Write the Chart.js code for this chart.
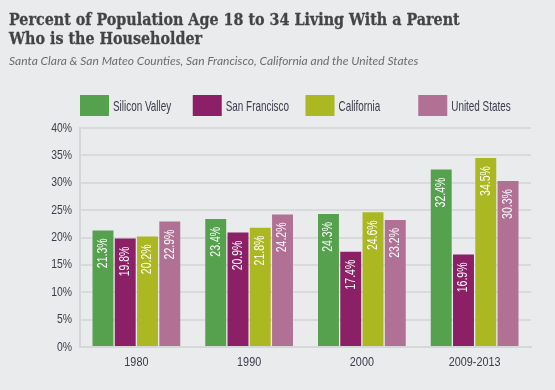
<!DOCTYPE html>
<html>
<head>
<meta charset="utf-8">
<script src="https://cdn.jsdelivr.net/npm/chart.js@4/dist/chart.umd.min.js"></script>
<style>
  html, body { margin: 0; padding: 0; background: #eaebed; }
  #wrap { position: relative; width: 555px; height: 390px; overflow: hidden; }
  #title { position: absolute; left: 9px; top: 10px; font-family: "DejaVu Serif", serif; font-weight: bold; font-size: 17.5px; line-height: 19px; color: #444444; -webkit-text-stroke: 0.3px #444444; white-space: nowrap; transform: scaleX(0.817); transform-origin: 0 0; }
  #sub { position: absolute; left: 9px; top: 53px; font-family: "Lato", "Open Sans", sans-serif; font-style: italic; font-size: 12px; color: #6d6d6d; white-space: nowrap; }
  canvas { position: absolute; left: 0; top: 0; }
</style>
</head>
<body>
<div id="wrap">
  <canvas id="c" width="555" height="390"></canvas>
  <div id="title">Percent of Population Age 18 to 34 Living With a Parent<br>Who is the Householder</div>
  <div id="sub">Santa Clara &amp; San Mateo Counties, San Francisco, California and the United States</div>
</div>
<script>
const categories = ["1980", "1990", "2000", "2009-2013"];
const seriesNames = ["Silicon Valley", "San Francisco", "California", "United States"];
const siliconValley = [21.3, 23.4, 24.3, 32.4];
const sanFrancisco = [19.8, 20.9, 17.4, 16.9];
const california = [20.2, 21.8, 24.6, 34.5];
const unitedStates = [22.9, 24.2, 23.2, 30.3];
const yTicks = [0, 5, 10, 15, 20, 25, 30, 35, 40];
const seriesColors = ["#55a14e", "#8c2067", "#abb821", "#b07195"];

const narrowFamily = '"Liberation Sans", Arial, sans-serif';
const textDark = '#3b3b4b';

// Draw text squeezed horizontally to imitate a condensed face
function narrowText(ctx, text, x, y, size, squeeze, align, baseline, color) {
  ctx.save();
  ctx.font = size + 'px ' + narrowFamily;
  ctx.fillStyle = color;
  ctx.textAlign = align;
  ctx.textBaseline = baseline;
  ctx.translate(x, y);
  ctx.scale(squeeze, 1);
  ctx.fillText(text, 0, 0);
  ctx.restore();
}

const valueLabels = {
  id: 'valueLabels',
  afterDatasetsDraw(chart) {
    const ctx = chart.ctx;
    chart.data.datasets.forEach((ds, di) => {
      chart.getDatasetMeta(di).data.forEach((bar, i) => {
        ctx.save();
        ctx.translate(bar.x, bar.y + 8);
        ctx.rotate(-Math.PI / 2);
        narrowText(ctx, ds.data[i].toFixed(1) + '%', 0, 0, 14, 0.75, 'right', 'middle', '#ffffff');
        ctx.restore();
      });
    });
  }
};

const axisLabels = {
  id: 'axisLabels',
  afterDraw(chart) {
    const ctx = chart.ctx;
    const ys = chart.scales.y, xs = chart.scales.x;
    ys.ticks.forEach((t, i) => {
      narrowText(ctx, t.value + '%', ys.right - 8, ys.getPixelForTick(i), 13, 0.8, 'right', 'middle', textDark);
    });
    xs.ticks.forEach((t, i) => {
      narrowText(ctx, categories[t.value], xs.getPixelForTick(i), xs.top + 15, 13.5, 0.8, 'center', 'middle', textDark);
    });
  }
};

const topLegend = {
  id: 'topLegend',
  afterDraw(chart) {
    const ctx = chart.ctx;
    const area = chart.chartArea;
    const step = (area.right - area.left) / categories.length;
    seriesNames.forEach((name, i) => {
      const x = area.left + i * step;
      ctx.fillStyle = seriesColors[i];
      ctx.fillRect(x, 95, 29, 21);
      narrowText(ctx, name, x + 33, 106.5, 15, 0.66, 'left', 'middle', textDark);
    });
  }
};

new Chart(document.getElementById('c'), {
  type: 'bar',
  data: {
    labels: categories,
    datasets: [siliconValley, sanFrancisco, california, unitedStates].map((d, i) => ({
      label: seriesNames[i],
      data: d,
      backgroundColor: seriesColors[i],
      borderWidth: 0,
      categoryPercentage: 0.79,
      barPercentage: 0.94
    }))
  },
  options: {
    responsive: false,
    animation: false,
    layout: { padding: { top: 128, right: 24, bottom: 0, left: 0 } },
    plugins: { legend: { display: false }, tooltip: { enabled: false }, title: { display: false } },
    scales: {
      x: {
        grid: { display: false },
        border: { display: true, color: '#d6d7d9', width: 2 },
        ticks: { display: false },
        afterFit(s) { s.height = 43; }
      },
      y: {
        min: 0, max: 40,
        afterBuildTicks(s) { s.ticks = yTicks.map(v => ({ value: v })); },
        grid: { color: '#d9dadc', lineWidth: 2, drawTicks: false },
        border: { display: true, color: '#d6d7d9', width: 2 },
        ticks: { display: false },
        afterFit(s) { s.width = 80; }
      }
    }
  },
  plugins: [valueLabels, axisLabels, topLegend]
});
</script>
</body>
</html>
